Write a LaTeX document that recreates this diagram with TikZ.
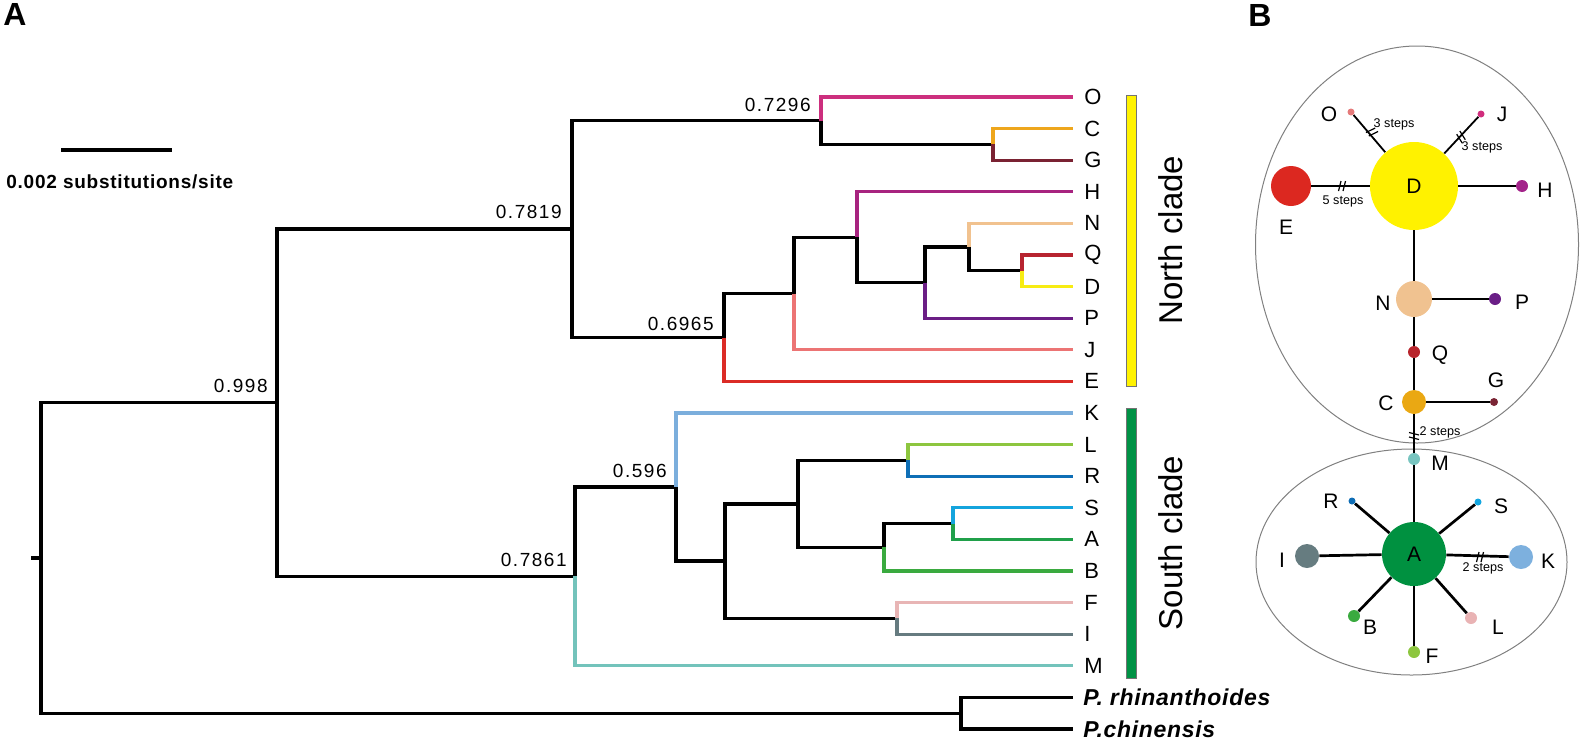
\documentclass[tikz,border=0pt]{standalone}
\usepackage{fontspec}
\setmainfont{Liberation Sans}
\newfontfamily\spacedfont[LetterSpace=8]{Liberation Sans}
\newfontfamily\barfont[LetterSpace=4]{Liberation Sans}
\newfontfamily\outfont[LetterSpace=3]{Liberation Sans}
\definecolor{cO}{HTML}{CC2F7E}
\definecolor{cC}{HTML}{EEA61C}
\definecolor{cG}{HTML}{7A2232}
\definecolor{cH}{HTML}{A7237F}
\definecolor{cN}{HTML}{F1C28F}
\definecolor{cQ}{HTML}{B72430}
\definecolor{cD}{HTML}{F7EC13}
\definecolor{cP}{HTML}{6B1E85}
\definecolor{cJ}{HTML}{EC7474}
\definecolor{cE}{HTML}{DB2B26}
\definecolor{cK}{HTML}{7BAEDC}
\definecolor{cL}{HTML}{8DC63F}
\definecolor{cR}{HTML}{0F6FB6}
\definecolor{cS}{HTML}{14A4DD}
\definecolor{cA}{HTML}{20A04A}
\definecolor{cB}{HTML}{3AAA3F}
\definecolor{cF}{HTML}{E8B5B5}
\definecolor{cI}{HTML}{667B80}
\definecolor{cM}{HTML}{73C3BB}
\definecolor{nD}{HTML}{FFF200}
\definecolor{nE}{HTML}{DC2820}
\definecolor{nO}{HTML}{E57A7A}
\definecolor{nJ}{HTML}{D12D7D}
\definecolor{nH}{HTML}{A3238A}
\definecolor{nN}{HTML}{F0C290}
\definecolor{nP}{HTML}{6A1E86}
\definecolor{nQ}{HTML}{B8252C}
\definecolor{nC}{HTML}{EAA813}
\definecolor{nG}{HTML}{7A2434}
\definecolor{nM}{HTML}{78C5C0}
\definecolor{nA}{HTML}{009140}
\definecolor{nR}{HTML}{0E6DB5}
\definecolor{nS}{HTML}{12A6E0}
\definecolor{nI}{HTML}{667C80}
\definecolor{nK}{HTML}{7DB0DE}
\definecolor{nB}{HTML}{3AAA3F}
\definecolor{nL}{HTML}{E9B3B4}
\definecolor{nF}{HTML}{8DC63F}
\definecolor{barY}{HTML}{FFF200}
\definecolor{barG}{HTML}{009245}
\newcommand\brkmark[3]{\begin{scope}[shift={(#1,#2)},rotate=#3]\draw[line width=0.6pt] (-3.5,5)--(-1,-5) (1,5)--(3.5,-5);\end{scope}}
\begin{document}
\begin{tikzpicture}[x=0.5pt,y=-0.5pt,
  br/.style={line width=1.65pt},
  hap/.style={circle, inner sep=0pt, draw=none},
  nedge/.style={line width=1.35pt},
  thinedge/.style={line width=0.9pt},
  nlbl/.style={font=\fontsize{10.5}{12}\selectfont, inner sep=0pt},
  leaflbl/.style={font=\fontsize{11}{13}\selectfont, anchor=west, inner sep=0pt},
  outlbl/.style={font=\outfont\fontsize{11.5}{13}\selectfont\bfseries\itshape, anchor=west, inner sep=0pt},
  supp/.style={font=\spacedfont\fontsize{9.5}{11}\selectfont, anchor=base east, inner sep=0pt},
  steplbl/.style={font=\fontsize{6.3}{7}\selectfont, inner sep=0pt},
  panel/.style={font=\fontsize{16}{18}\selectfont\bfseries, anchor=north west, inner sep=0pt},
  clade/.style={font=\fontsize{16.5}{18}\selectfont, rotate=90, inner sep=0pt}]
\useasboundingbox (0,0) rectangle (1583,745);
% panel labels
\node[panel] (pA) at (3,3) {A};
\node[panel] (pB) at (1248,4) {B};
% scale bar
\coordinate (sb1) at (61,150);
\coordinate (sb2) at (172,150);
\draw[line width=2pt] (sb1) -- (sb2);
\node[anchor=base west, inner sep=0pt, font=\barfont\bfseries\fontsize{9.5}{11}\selectfont] (sbt) at (6,188) {0.002 substitutions/site};
% leaves
\coordinate (lO) at (1073,97);
\coordinate (lC) at (1073,128.6);
\coordinate (lG) at (1073,160.2);
\coordinate (lH) at (1073,191.8);
\coordinate (lN) at (1073,223.4);
\coordinate (lQ) at (1073,255);
\coordinate (lD) at (1073,286.6);
\coordinate (lP) at (1073,318.2);
\coordinate (lJ) at (1073,349.8);
\coordinate (lE) at (1073,381.4);
\coordinate (lK) at (1073,413);
\coordinate (lL) at (1073,444.6);
\coordinate (lR) at (1073,476.2);
\coordinate (lS) at (1073,507.8);
\coordinate (lA) at (1073,539.4);
\coordinate (lB) at (1073,571);
\coordinate (lF) at (1073,602.6);
\coordinate (lI) at (1073,634.2);
\coordinate (lM) at (1073,665.8);
\coordinate (lPr) at (1073,697.4);
\coordinate (lPc) at (1073,729);
% internal nodes
\coordinate (stub) at (31,558);
\coordinate (root) at (41,558);
\coordinate (ing) at (277,402.8);
\coordinate (nor) at (572,229.1);
\coordinate (nO) at (821,120.7);
\coordinate (nCG) at (993,144.4);
\coordinate (nE) at (724,337.5);
\coordinate (nJ) at (794,293.5);
\coordinate (nH) at (857,237.2);
\coordinate (nP) at (925,282.6);
\coordinate (nN) at (969,247.1);
\coordinate (nQ) at (1022,270.8);
\coordinate (sou) at (575,576.4);
\coordinate (nK) at (676,487.1);
\coordinate (nX) at (725,561.1);
\coordinate (nLS) at (798,503.9);
\coordinate (nLR) at (908,460.4);
\coordinate (nSB) at (884,547.3);
\coordinate (nSA) at (953,523.6);
\coordinate (nFI) at (897,618.4);
\coordinate (out) at (961,713.2);
% branches
\draw[br] (stub) -- (root);
\draw[br] (root) |- (ing);
\draw[br] (root) |- (out);
\draw[br] (ing) |- (nor);
\draw[br] (ing) |- (sou);
\draw[br] (nor) |- (nO);
\draw[br] (nor) |- (nE);
\draw[br,cO] (nO) |- (lO);
\draw[br] (nO) |- (nCG);
\draw[br,cC] (nCG) |- (lC);
\draw[br,cG] (nCG) |- (lG);
\draw[br] (nE) |- (nJ);
\draw[br,cE] (nE) |- (lE);
\draw[br] (nJ) |- (nH);
\draw[br,cJ] (nJ) |- (lJ);
\draw[br,cH] (nH) |- (lH);
\draw[br] (nH) |- (nP);
\draw[br] (nP) |- (nN);
\draw[br,cP] (nP) |- (lP);
\draw[br,cN] (nN) |- (lN);
\draw[br] (nN) |- (nQ);
\draw[br,cQ] (nQ) |- (lQ);
\draw[br,cD] (nQ) |- (lD);
\draw[br] (sou) |- (nK);
\draw[br,cM] (sou) |- (lM);
\draw[br,cK] (nK) |- (lK);
\draw[br] (nK) |- (nX);
\draw[br] (nX) |- (nLS);
\draw[br] (nX) |- (nFI);
\draw[br] (nLS) |- (nLR);
\draw[br] (nLS) |- (nSB);
\draw[br,cL] (nLR) |- (lL);
\draw[br,cR] (nLR) |- (lR);
\draw[br] (nSB) |- (nSA);
\draw[br,cB] (nSB) |- (lB);
\draw[br,cS] (nSA) |- (lS);
\draw[br,cA] (nSA) |- (lA);
\draw[br,cF] (nFI) |- (lF);
\draw[br,cI] (nFI) |- (lI);
\draw[br] (out) |- (lPr);
\draw[br] (out) |- (lPc);
% support values
\node[supp] (s1) at (268,392) {0.998};
\node[supp] (s2) at (562,218) {0.7819};
\node[supp] (s3) at (811,111) {0.7296};
\node[supp] (s4) at (714,330) {0.6965};
\node[supp] (s5) at (667,477) {0.596};
\node[supp] (s6) at (567,566) {0.7861};
% leaf labels
\node[leaflbl] (tO) at (1084,97) {O};
\node[leaflbl] (tC) at (1084,128.6) {C};
\node[leaflbl] (tG) at (1084,160.2) {G};
\node[leaflbl] (tH) at (1084,191.8) {H};
\node[leaflbl] (tN) at (1084,223.4) {N};
\node[leaflbl] (tQ) at (1084,255) {Q};
\node[leaflbl] (tD) at (1084,286.6) {D};
\node[leaflbl] (tP) at (1084,318.2) {P};
\node[leaflbl] (tJ) at (1084,349.8) {J};
\node[leaflbl] (tE) at (1084,381.4) {E};
\node[leaflbl] (tK) at (1084,413) {K};
\node[leaflbl] (tL) at (1084,444.6) {L};
\node[leaflbl] (tR) at (1084,476.2) {R};
\node[leaflbl] (tS) at (1084,507.8) {S};
\node[leaflbl] (tA) at (1084,539.4) {A};
\node[leaflbl] (tB) at (1084,571) {B};
\node[leaflbl] (tF) at (1084,602.6) {F};
\node[leaflbl] (tI) at (1084,634.2) {I};
\node[leaflbl] (tM) at (1084,665.8) {M};
\node[outlbl] (tPr) at (1083,697.4) {P. rhinanthoides};
\node[outlbl] (tPc) at (1083,729) {P.chinensis};
% clade bars
\draw[fill=barY, draw=black!55, line width=0.4pt] (1126,95) rectangle (1136,386);
\draw[fill=barG, draw=black!55, line width=0.4pt] (1126,408) rectangle (1136,678);
\node[clade] (ncl) at (1171,240) {North clade};
\node[clade] (scl) at (1171,543) {South clade};
% network ellipses
\draw[black!50, line width=0.5pt] (1417,244.5) ellipse [x radius=80.75pt, y radius=99.25pt];
\draw[black!50, line width=0.5pt] (1411.5,562) ellipse [x radius=77.75pt, y radius=56.5pt];
% haplotypes
\node[hap, fill=nD, minimum size=44pt, nlbl] (hD) at (1414,186) {D};
\node[hap, fill=nE, minimum size=20pt] (hE) at (1291,186) {};
\node[hap, fill=nO, minimum size=3.5pt] (hO) at (1351,112) {};
\node[hap, fill=nJ, minimum size=3.5pt] (hJ) at (1481,114) {};
\node[hap, fill=nH, minimum size=6pt] (hH) at (1522,186) {};
\node[hap, fill=nN, minimum size=18pt] (hN) at (1414,299) {};
\node[hap, fill=nP, minimum size=6pt] (hP) at (1495,299) {};
\node[hap, fill=nQ, minimum size=6pt] (hQ) at (1414,352) {};
\node[hap, fill=nC, minimum size=12pt] (hC) at (1414,402) {};
\node[hap, fill=nG, minimum size=4pt] (hG) at (1494,402) {};
\node[hap, fill=nM, minimum size=6pt] (hM) at (1414,459) {};
\node[hap, fill=nA, minimum size=32pt, nlbl] (hA) at (1414,554) {A};
\node[hap, fill=nR, minimum size=3.5pt] (hR) at (1352,501) {};
\node[hap, fill=nS, minimum size=3.5pt] (hS) at (1478,502) {};
\node[hap, fill=nI, minimum size=12pt] (hI) at (1307,556) {};
\node[hap, fill=nK, minimum size=12pt] (hK) at (1521,557) {};
\node[hap, fill=nB, minimum size=6pt] (hB) at (1354,616) {};
\node[hap, fill=nL, minimum size=6pt] (hL) at (1471,618) {};
\node[hap, fill=nF, minimum size=6pt] (hF) at (1414,652) {};
% network edges
\draw[nedge] (hD) -- (hE);
\draw[thinedge] (hD) -- (hO);
\draw[thinedge] (hD) -- (hJ);
\draw[nedge] (hD) -- (hH);
\draw[nedge] (hD) -- (hN);
\draw[nedge] (hN) -- (hP);
\draw[nedge] (hN) -- (hQ);
\draw[nedge] (hQ) -- (hC);
\draw[nedge] (hC) -- (hG);
\draw[thinedge] (hC) -- (hM);
\draw[nedge] (hM) -- (hA);
\draw[nedge] (hA) -- (hR);
\draw[nedge] (hA) -- (hS);
\draw[nedge] (hA) -- (hI);
\draw[nedge] (hA) -- (hK);
\draw[nedge] (hA) -- (hB);
\draw[nedge] (hA) -- (hL);
\draw[nedge] (hA) -- (hF);
% break marks
\brkmark{1342}{186}{0}
\brkmark{1372}{132}{-50}
\brkmark{1461}{137}{46}
\brkmark{1414}{436}{90}
\brkmark{1480}{557}{0}
% step labels
\node[steplbl] (st1) at (1394,124) {3 steps};
\node[steplbl] (st2) at (1482,147) {3 steps};
\node[steplbl] (st3) at (1343,201) {5 steps};
\node[steplbl] (st4) at (1440,432) {2 steps};
\node[steplbl] (st5) at (1483,568) {2 steps};
% network labels
\node[nlbl] (bO) at (1329,114) {O};
\node[nlbl] (bJ) at (1502,114) {J};
\node[nlbl] (bE) at (1286,227) {E};
\node[nlbl] (bH) at (1545,190) {H};
\node[nlbl] (bN) at (1383,303) {N};
\node[nlbl] (bP) at (1522,302) {P};
\node[nlbl] (bQ) at (1440,355) {Q};
\node[nlbl] (bC) at (1386,403) {C};
\node[nlbl] (bG) at (1496,380) {G};
\node[nlbl] (bM) at (1440,463) {M};
\node[nlbl] (bR) at (1331,501) {R};
\node[nlbl] (bS) at (1501,506) {S};
\node[nlbl] (bI) at (1282,560) {I};
\node[nlbl] (bK) at (1548,561) {K};
\node[nlbl] (bB) at (1370,627) {B};
\node[nlbl] (bL) at (1498,627) {L};
\node[nlbl] (bF) at (1432,656) {F};
\end{tikzpicture}
\end{document}
